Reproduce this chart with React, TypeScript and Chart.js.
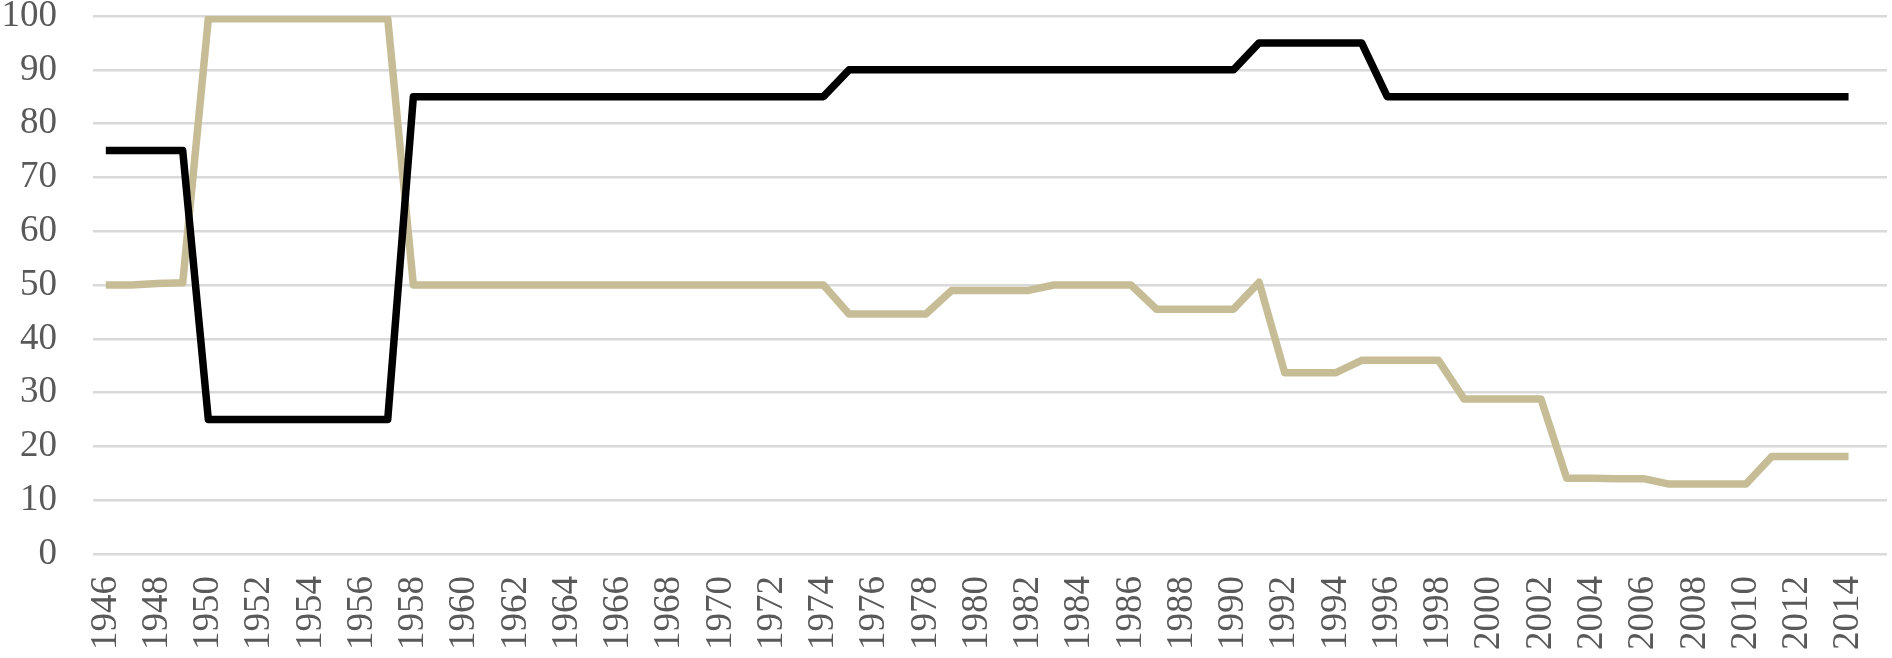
import React, { useEffect, useRef } from "react";
import { Chart, registerables } from "chart.js";

Chart.register(...registerables);

const years: string[] = [
  "1946", "1947", "1948", "1949", "1950", "1951", "1952", "1953", "1954", "1955",
  "1956", "1957", "1958", "1959", "1960", "1961", "1962", "1963", "1964", "1965",
  "1966", "1967", "1968", "1969", "1970", "1971", "1972", "1973", "1974", "1975",
  "1976", "1977", "1978", "1979", "1980", "1981", "1982", "1983", "1984", "1985",
  "1986", "1987", "1988", "1989", "1990", "1991", "1992", "1993", "1994", "1995",
  "1996", "1997", "1998", "1999", "2000", "2001", "2002", "2003", "2004", "2005",
  "2006", "2007", "2008", "2009", "2010", "2011", "2012", "2013", "2014", "2015",
];

const blackSeries: number[] = [
  75, 75, 75, 75,
  25, 25, 25, 25, 25, 25, 25, 25,
  85, 85, 85, 85, 85, 85, 85, 85, 85, 85, 85, 85, 85, 85, 85, 85, 85,
  90, 90, 90, 90, 90, 90, 90, 90, 90, 90, 90, 90, 90, 90, 90, 90,
  95, 95, 95, 95, 95,
  85, 85, 85, 85, 85, 85, 85, 85, 85, 85, 85, 85, 85, 85, 85, 85, 85, 85, 85,
];

const tanSeries: number[] = [
  50, 50, 50.3, 50.4,
  99.5, 99.5, 99.5, 99.5, 99.5, 99.5, 99.5, 99.5,
  50, 50, 50, 50, 50, 50, 50, 50, 50, 50, 50, 50, 50, 50, 50, 50, 50,
  44.6, 44.6, 44.6, 44.6,
  49, 49, 49, 49,
  50, 50, 50, 50,
  45.5, 45.5, 45.5, 45.5,
  50.5,
  33.7, 33.7, 33.7,
  36, 36, 36, 36,
  28.8, 28.8, 28.8, 28.8,
  14.1, 14.1, 14.0, 14.0,
  13, 13, 13, 13,
  18.1, 18.1, 18.1, 18.1,
];

const yTicks: number[] = [0, 10, 20, 30, 40, 50, 60, 70, 80, 90, 100];

export default function App() {
  const canvasRef = useRef<HTMLCanvasElement | null>(null);

  useEffect(() => {
    const canvas = canvasRef.current;
    if (!canvas) return;
    const font = { family: "'Liberation Serif', serif", size: 37 };
    const chart = new Chart(canvas, {
      type: "line",
      data: {
        labels: years,
        datasets: [
          {
            label: "Black",
            data: blackSeries,
            borderColor: "#000000",
            backgroundColor: "#000000",
            borderWidth: 7.5,
            pointRadius: 0,
            borderJoinStyle: "round",
            borderCapStyle: "butt",
            tension: 0,
          },
          {
            label: "Tan",
            data: tanSeries,
            borderColor: "rgb(198,189,151)",
            backgroundColor: "rgb(198,189,151)",
            borderWidth: 7.5,
            pointRadius: 0,
            borderJoinStyle: "round",
            borderCapStyle: "butt",
            tension: 0,
          },
        ],
      },
      options: {
        responsive: false,
        animation: false,
        layout: { padding: { top: 16, right: 5, left: 0, bottom: 0 } },
        plugins: {
          legend: { display: false },
          tooltip: { enabled: false },
        },
        scales: {
          x: {
            type: "category",
            offset: true,
            grid: { display: false, drawTicks: false },
            border: { display: false },
            ticks: {
              autoSkip: false,
              maxRotation: 90,
              minRotation: 90,
              padding: 22,
              color: "#595959",
              font,
              callback: function (this: any, _v: any, index: number) {
                return index % 2 === 0 ? years[index] : "";
              },
            },
            afterFit: (scale: any) => {
              scale.height = 104;
              scale.paddingLeft = 0;
              scale.paddingRight = 0;
            },
          },
          y: {
            min: 0,
            max: 100,
            afterBuildTicks: (scale: any) => {
              scale.ticks = yTicks.map((v) => ({ value: v }));
            },
            grid: { color: "#D9D9D9", lineWidth: 2.5, drawTicks: false },
            border: { display: false },
            ticks: {
              padding: 36,
              color: "#595959",
              font,
            },
            afterFit: (scale: any) => {
              scale.width = 93;
              scale.paddingTop = 0;
              scale.paddingBottom = 0;
            },
          },
        },
      },
    });
    return () => chart.destroy();
  }, []);

  return (
    <div style={{ position: "absolute", left: 0, top: 0, width: 1892, height: 658, background: "#ffffff" }}>
      <canvas ref={canvasRef} width={1892} height={658} style={{ display: "block" }} />
    </div>
  );
}
